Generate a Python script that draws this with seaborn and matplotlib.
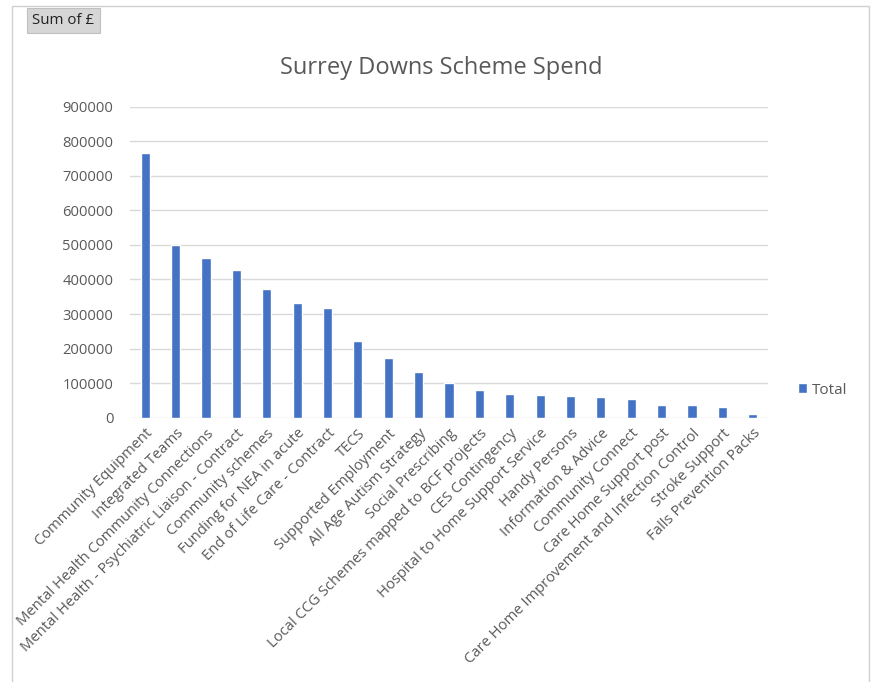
import matplotlib
matplotlib.use("Agg")
import matplotlib.pyplot as plt
from matplotlib.patches import Rectangle, FancyBboxPatch
import seaborn as sns
import pandas as pd

# Scheme spend totals (GBP)
schemes = [
    "Community Equipment",
    "Integrated Teams",
    "Mental Health Community Connections",
    "Mental Health - Psychiatric Liaison - Contract",
    "Community schemes",
    "Funding for NEA in acute",
    "End of Life Care - Contract",
    "TECS",
    "Supported Employment",
    "All Age Autism Strategy",
    "Social Prescribing",
    "Local CCG Schemes mapped to BCF projects",
    "CES Contingency",
    "Hospital to Home Support Service",
    "Handy Persons",
    "Information & Advice",
    "Community Connect",
    "Care Home Support post",
    "Care Home Improvement and Infection Control",
    "Stroke Support",
    "Falls Prevention Packs",
]
spend = [
    765000, 499000, 462000, 428000, 371000, 331000, 317000,
    223000, 173000, 131000, 101000, 81000, 70000, 66500,
    63500, 61000, 54000, 36600, 36600, 30000, 9600,
]
series_name = ["Total"] * len(schemes)
y_ticks = [0, 100000, 200000, 300000, 400000, 500000, 600000, 700000, 800000, 900000]

df = pd.DataFrame({"Scheme": schemes, "Spend": spend, "Series": series_name})

sns.set_theme(style="white")
plt.rcParams["font.family"] = ["Open Sans", "DejaVu Sans"]

BAR = "#4472C4"
TXT = "#595959"
GRID = "#d9d9d9"

fig = plt.figure(figsize=(8.78, 6.82), dpi=100)
fig.patch.set_facecolor("white")

# outer chart frame
fig.add_artist(Rectangle((12 / 878, -0.01), (869 - 12) / 878, 1 - 6 / 682 + 0.01,
                         transform=fig.transFigure, fill=False,
                         edgecolor="#d0d0d0", linewidth=1.0))

ax = fig.add_axes([130 / 878, 1 - 417.7 / 682, (768 - 130) / 878, (417.7 - 106.7) / 682])

sns.barplot(data=df, x="Scheme", y="Spend", hue="Series", palette=[BAR],
            width=0.3, dodge=False, ax=ax, legend=True, saturation=1)

ax.set_ylim(0, 900000)
ax.set_yticks(y_ticks)
ax.set_yticklabels([str(v) for v in y_ticks], color=TXT, fontsize=10.6)
ax.yaxis.grid(True, color=GRID, linewidth=1.0)
ax.set_axisbelow(True)
for s in ax.spines.values():
    s.set_visible(False)
ax.tick_params(axis="both", length=0)
ax.tick_params(axis="y", pad=12)
ax.set_xlabel("")
ax.set_ylabel("")
ax.set_xlim(-0.5, len(schemes) - 0.5)

ax.set_xticks(range(len(schemes)))
ax.set_xticklabels(schemes, rotation=45, ha="right", rotation_mode="anchor",
                   color=TXT, fontsize=10.6)
ax.tick_params(axis="x", pad=6)

leg = ax.legend(loc="center left", bbox_to_anchor=(1.025, 0.089), frameon=False,
                fontsize=11, handlelength=0.6, handleheight=0.6, handletextpad=0.3,
                labelcolor=TXT)

fig.text(441 / 878, 1 - 68 / 682, "Surrey Downs Scheme Spend", ha="center", va="center",
         fontsize=17, color=TXT)

# field button
fig.add_artist(FancyBboxPatch((27 / 878, 1 - 33 / 682), 73 / 878, 25 / 682,
                              boxstyle="square,pad=0", transform=fig.transFigure,
                              facecolor="#d6d6d6", edgecolor="#c0c0c0", linewidth=0.8))
fig.text(63.5 / 878, 1 - 20.5 / 682, "Sum of £", ha="center", va="center",
         fontsize=10.8, color="#222222")

fig.savefig("out.png", dpi=100, facecolor="white")
